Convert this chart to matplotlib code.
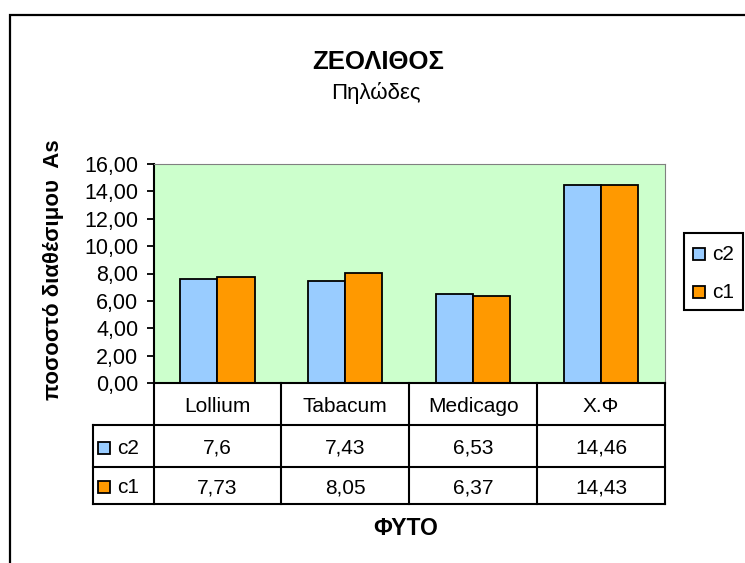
import matplotlib
matplotlib.use("Agg")
import matplotlib.pyplot as plt
from matplotlib.patches import Rectangle
from matplotlib.lines import Line2D

# Data
plants = ["Lollium", "Tabacum", "Medicago", "Χ.Φ"]
c2 = [7.6, 7.43, 6.53, 14.46]
c1 = [7.73, 8.05, 6.37, 14.43]
c2_labels = ["7,6", "7,43", "6,53", "14,46"]
c1_labels = ["7,73", "8,05", "6,37", "14,43"]
yticks = [0, 2, 4, 6, 8, 10, 12, 14, 16]

col_c2 = "#99CCFF"
col_c1 = "#FF9900"
plt.rcParams['font.family'] = ['Liberation Sans', 'DejaVu Sans']
fs = 15

W, H = 745, 563
fig = plt.figure(figsize=(W / 100, H / 100), dpi=100)

def fx(x):
    return x / W

def fy(y):
    return 1 - y / H

def box(x, y, w, h, **kw):
    fig.patches.append(Rectangle((fx(x), fy(y + h)), fx(w), fy(y) - fy(y + h),
                                 transform=fig.transFigure, **kw))

# outer chart frame (cut off on right and bottom)
box(10, 15, 800, 600, fill=False, edgecolor="black", linewidth=1.6)

x0, x1, ytop, ybot = 153.5, 665, 164, 383
ax = fig.add_axes([fx(x0), fy(ybot), fx(x1 - x0), fy(ytop) - fy(ybot)])
ax.set_facecolor("#CCFFCC")
idx = range(len(plants))
w = 0.29
ax.bar([i - w / 2 for i in idx], c2, w, color=col_c2, edgecolor="black", linewidth=1.3)
ax.bar([i + w / 2 for i in idx], c1, w, color=col_c1, edgecolor="black", linewidth=1.3)
ax.set_xlim(-0.5, len(plants) - 0.5)
ax.set_ylim(0, 16)
ax.set_yticks(yticks)
ax.set_yticklabels([("%.2f" % v).replace(".", ",") for v in yticks], fontsize=15.5)
ax.set_xticks([])
ax.tick_params(axis="y", direction="out", length=5, width=1.3, pad=6)
ax.spines["top"].set_color("#808080")
ax.spines["right"].set_color("#808080")
ax.spines["left"].set_linewidth(1.5)
ax.spines["bottom"].set_linewidth(1.5)

# data table below the axes
cols = [x0 + (x1 - x0) * i / len(plants) for i in range(len(plants) + 1)]
rows = [383, 425, 467, 504]
tl = 93
lw = 1.5

def hline(y, xa, xb):
    fig.add_artist(Line2D([fx(xa), fx(xb)], [fy(y), fy(y)], color="black", lw=lw))

def vline(x, ya, yb):
    fig.add_artist(Line2D([fx(x), fx(x)], [fy(ya), fy(yb)], color="black", lw=lw))

for r in rows[1:]:
    hline(r, tl, x1)
vline(tl, rows[1], rows[3])
for c in cols:
    vline(c, rows[0], rows[3])

def baseline(r):
    return rows[r] + (rows[r + 1] - rows[r] + 15) / 2

for i, p in enumerate(plants):
    cx = (cols[i] + cols[i + 1]) / 2
    fig.text(fx(cx), fy(baseline(0)), p, ha="center", va="baseline", fontsize=fs)
    fig.text(fx(cx), fy(baseline(1)), c2_labels[i], ha="center", va="baseline", fontsize=fs)
    fig.text(fx(cx), fy(baseline(2)), c1_labels[i], ha="center", va="baseline", fontsize=fs)

for r, name, col in [(1, "c2", col_c2), (2, "c1", col_c1)]:
    b = baseline(r)
    box(98, b - 12, 12, 12, facecolor=col, edgecolor="black", linewidth=1.3)
    fig.text(fx(117), fy(b), name, ha="left", va="baseline", fontsize=fs)

# titles and axis labels
fig.text(fx(378), fy(69), "ΖΕΟΛΙΘΟΣ", ha="center", va="baseline", fontsize=18.5, fontweight="bold")
fig.text(fx(376), fy(99), "Πηλώδες", ha="center", va="baseline", fontsize=16)
fig.text(fx(54), fy(270), "ποσοστό διαθέσιμου  As", ha="center", va="center",
         rotation=90, fontsize=16, fontweight="bold")
fig.text(fx(406), fy(535), "ΦΥΤΟ", ha="center", va="baseline", fontsize=16.5, fontweight="bold")

# legend
box(684, 233, 59, 77, facecolor="white", edgecolor="black", linewidth=1.5)
for yk, name, col in [(248, "c2", col_c2), (286, "c1", col_c1)]:
    box(693, yk, 12, 12, facecolor=col, edgecolor="black", linewidth=1.3)
    fig.text(fx(712), fy(yk + 12), name, ha="left", va="baseline", fontsize=fs)

fig.savefig("out.png", dpi=100)
